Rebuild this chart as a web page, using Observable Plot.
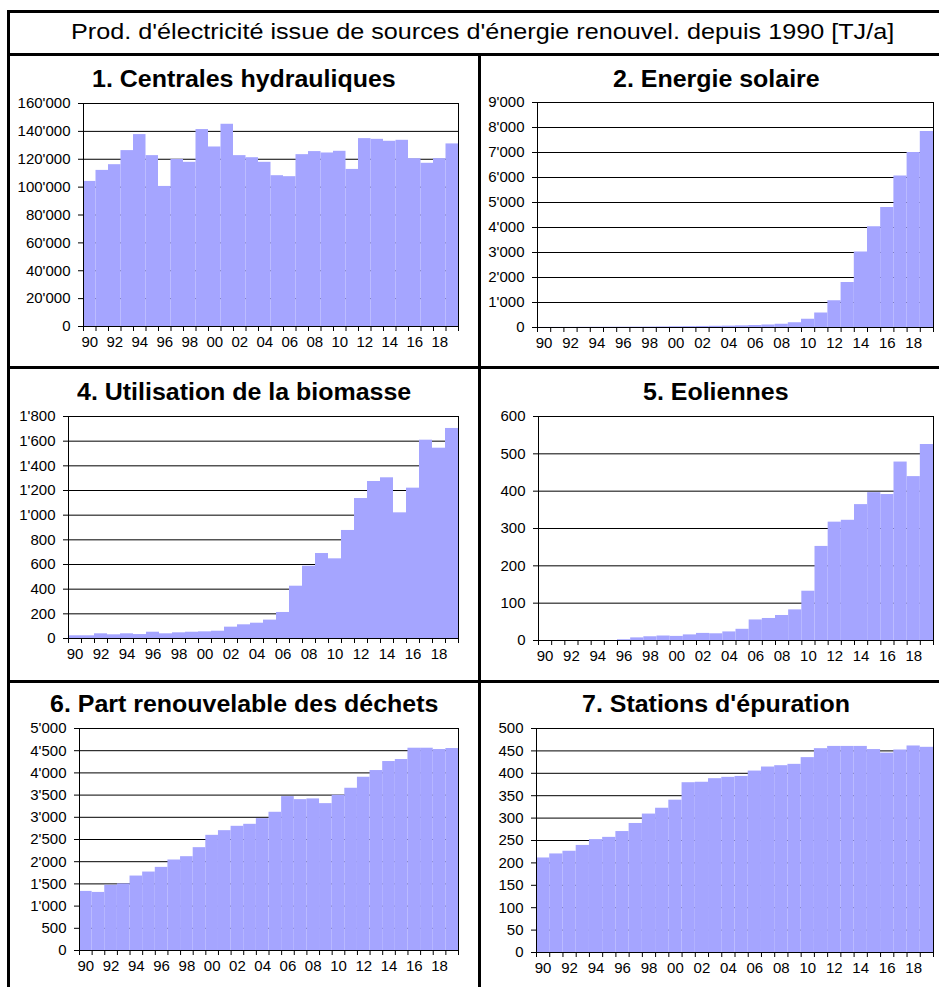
<!DOCTYPE html>
<html><head><meta charset="utf-8">
<script src="https://cdn.jsdelivr.net/npm/d3@7"></script>
<script src="https://cdn.jsdelivr.net/npm/@observablehq/plot@0.6"></script>
<style>
body{margin:0;background:#fff;}
#root{position:relative;width:939px;height:987px;overflow:hidden;font-family:"Liberation Sans",Arial,sans-serif;color:#000;}
.line{position:absolute;background:#000;}
.ttl{position:absolute;white-space:nowrap;line-height:1;transform-origin:0 0;}
.panel{position:absolute;}
</style></head><body><div id="root"></div>
<script>
const mainTitle = "Prod. d'électricité issue de sources d'énergie renouvel. depuis 1990 [TJ/a]";
const years = [1990,1991,1992,1993,1994,1995,1996,1997,1998,1999,2000,2001,2002,2003,2004,2005,2006,2007,2008,2009,2010,2011,2012,2013,2014,2015,2016,2017,2018,2019];

const hydroTitle = "1. Centrales hydrauliques";
const hydro = [104100,112000,116100,126200,137700,122600,100500,119900,117800,141300,128800,145100,122600,121100,117800,108200,107500,123300,125500,124500,125700,112700,134800,134300,132900,133600,120400,117100,120400,131000];
const hydroTicks = [0,20000,40000,60000,80000,100000,120000,140000,160000];

const solarTitle = "2. Energie solaire";
const solar = [3,4,5,8,10,12,14,16,20,25,30,36,42,48,55,66,80,100,130,190,330,580,1070,1800,3020,4030,4800,6060,7000,7840];
const solarTicks = [0,1000,2000,3000,4000,5000,6000,7000,8000,9000];

const biomassTitle = "4. Utilisation de la biomasse";
const biomass = [22,22,38,30,38,32,51,38,46,51,54,59,92,111,124,149,211,424,586,689,646,876,1135,1273,1303,1019,1219,1608,1543,1703];
const biomassTicks = [0,200,400,600,800,1000,1200,1400,1600,1800];

const windTitle = "5. Eoliennes";
const wind = [0,0,0,0,0,0,2,7,10,12,11,15,19,18,23,30,55,59,67,82,132,252,317,322,364,396,391,478,439,525];
const windTicks = [0,100,200,300,400,500,600];

const wasteTitle = "6. Part renouvelable des déchets";
const waste = [1331,1308,1470,1500,1677,1767,1872,2038,2113,2316,2594,2699,2797,2842,2970,3113,3466,3398,3414,3308,3496,3654,3902,4053,4256,4301,4556,4556,4526,4549];
const wasteTicks = [0,500,1000,1500,2000,2500,3000,3500,4000,4500,5000];

const sewageTitle = "7. Stations d'épuration";
const sewage = [211,220,226,239,252,257,270,288,309,322,340,379,380,388,391,393,405,414,417,420,435,455,460,460,460,453,445,452,461,458];
const sewageTicks = [0,50,100,150,200,250,300,350,400,450,500];

// layout (pixel geometry only)
const layout = [
  {title: hydroTitle, values: hydro, ticks: hydroTicks, col:0, fx0:83, fx1:458, fy0:103, fy1:326, cx:244, base:87},
  {title: solarTitle, values: solar, ticks: solarTicks, col:1, fx0:537, fx1:933, fy0:102, fy1:327, cx:716, base:87},
  {title: biomassTitle, values: biomass, ticks: biomassTicks, col:0, fx0:68, fx1:458, fy0:416, fy1:638, cx:244, base:400},
  {title: windTitle, values: wind, ticks: windTicks, col:1, fx0:538, fx1:933, fy0:416, fy1:640, cx:716, base:400},
  {title: wasteTitle, values: waste, ticks: wasteTicks, col:0, fx0:79, fx1:458, fy0:728, fy1:950, cx:244, base:712},
  {title: sewageTitle, values: sewage, ticks: sewageTicks, col:1, fx0:536, fx1:933, fy0:728, fy1:952, cx:716, base:712}
];

const root = document.getElementById("root");
function line(x, y, w, h){
  const d = document.createElement("div");
  d.className = "line";
  Object.assign(d.style, {left:x+"px", top:y+"px", width:w+"px", height:h+"px"});
  root.appendChild(d);
}
function title(text, cx, base, size, weight, sx){
  const d = document.createElement("div");
  d.className = "ttl";
  d.textContent = text;
  Object.assign(d.style, {left:"0px", top:(base - 0.8465*size)+"px", fontSize:size+"px", fontWeight:weight});
  root.appendChild(d);
  const w = d.getBoundingClientRect().width;
  d.style.left = (cx - w*sx/2) + "px";
  d.style.transform = "scaleX(" + sx + ")";
}

// borders
line(7, 10, 940, 3);
line(7, 10, 3, 990);
line(7, 53, 940, 3);
line(478, 55, 3, 940);
line(7, 366, 940, 3);
line(7, 680, 940, 3);

title(mainTitle, 483, 39.5, 22, "normal", 1.145);

const fmt = d3.formatLocale({decimal:".", thousands:"'", grouping:[3], currency:["",""]}).format(",");
const boundaries = years.concat([years[years.length-1] + 1]);
const labelPos = years.filter(y => y % 2 === 0).map(y => y + 0.5);

for (const p of layout) {
  title(p.title, p.cx, p.base, 23, "bold", 1.085);
  const data = years.map((yr, i) => ({yr, v: p.values[i]}));
  const svgLeft = p.col === 0 ? 10 : 481;
  const svgRight = p.col === 0 ? 477 : 939;
  const mt = 12, mb = 32;
  const top = p.fy0 - mt;
  const chart = Plot.plot({
    width: svgRight - svgLeft,
    height: (p.fy1 - p.fy0) + mt + mb,
    marginLeft: p.fx0 - svgLeft,
    marginRight: svgRight - p.fx1,
    marginTop: mt,
    marginBottom: mb,
    style: {fontFamily: '"Liberation Sans", Arial, sans-serif', fontSize: "15px", color: "#000", background: "transparent", overflow: "visible"},
    x: {domain: [years[0], years[years.length-1] + 1], axis: null},
    y: {domain: [0, p.ticks[p.ticks.length-1]], axis: null},
    marks: [
      Plot.gridY(p.ticks, {stroke: "#000", strokeOpacity: 1, strokeWidth: 1}),
      Plot.rectY(data, {x1: "yr", x2: d => d.yr + 1, y: "v", fill: "#a5a5ff"}),
      Plot.frame({stroke: "#000", strokeWidth: 1}),
      Plot.axisY(p.ticks, {tickSize: 5, tickPadding: 8, tickFormat: fmt, stroke: "#000", label: null}),
      Plot.axisX(boundaries, {tickSize: 5, tickFormat: () => "", stroke: "#000", label: null}),
      Plot.axisX(labelPos, {tickSize: 0, tickPadding: 10, tickFormat: d => String(Math.floor(d)).slice(2), label: null})
    ]
  });
  chart.classList.add("panel");
  chart.style.left = svgLeft + "px";
  chart.style.top = top + "px";
  chart.style.position = "absolute";
  root.appendChild(chart);
}
</script>
</body></html>
